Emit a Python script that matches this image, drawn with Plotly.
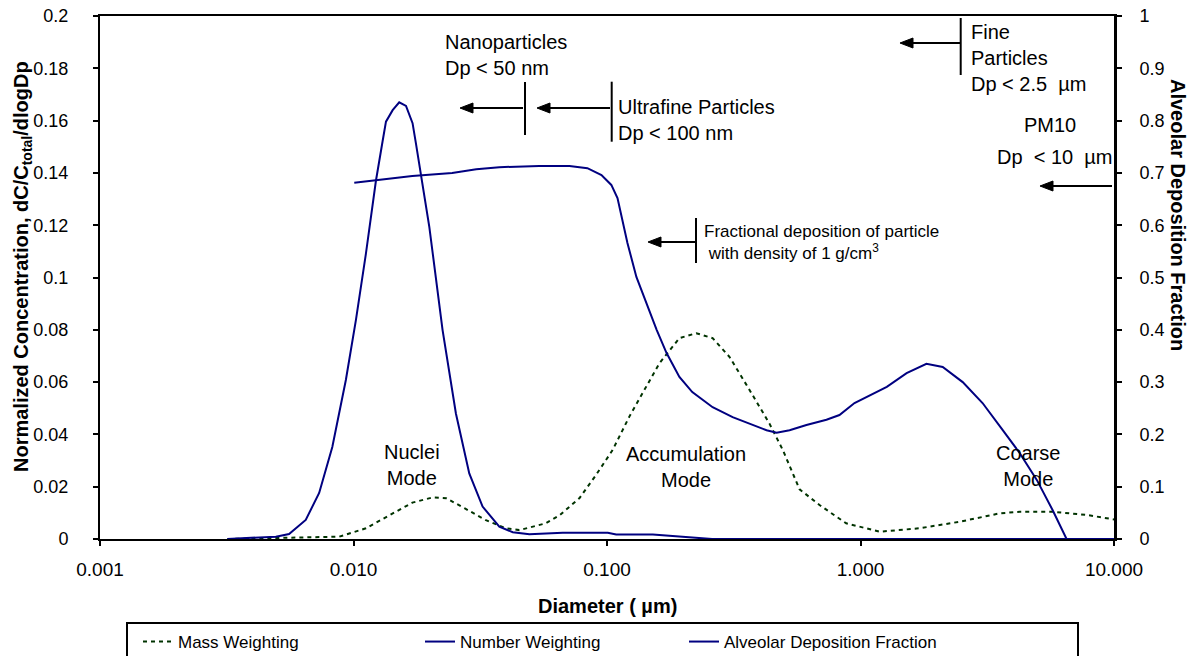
import plotly.graph_objects as go

# ---------------- data ----------------
diam_number = [0.00318, 0.00494, 0.00557, 0.00648, 0.00732, 0.00825, 0.00933, 0.01022, 0.01119,
               0.01226, 0.01302, 0.01343, 0.01427, 0.01515, 0.01611, 0.0171, 0.01763, 0.01991,
               0.02246, 0.02535, 0.02862, 0.0323, 0.0376, 0.0425, 0.0494, 0.0669, 0.1007,
               0.1087, 0.1516, 0.193, 0.26, 10.0]
number_weighting = [0.0, 0.0009, 0.0019, 0.0073, 0.0176, 0.0352, 0.0608, 0.0837, 0.109,
                    0.137, 0.152, 0.1596, 0.164, 0.167, 0.1656, 0.159, 0.1513, 0.1194,
                    0.0799, 0.048, 0.0251, 0.0124, 0.0047, 0.0026, 0.0018, 0.0024, 0.0024,
                    0.0017, 0.0017, 0.0009, 0.0, 0.0]

diam_mass = [0.00318, 0.00879, 0.01119, 0.01427, 0.01707, 0.0205, 0.0232, 0.0275, 0.0331,
             0.0398, 0.0451, 0.0574, 0.0653, 0.0778, 0.0905, 0.1052, 0.1225, 0.1448, 0.161,
             0.193, 0.225, 0.261, 0.304, 0.365, 0.437, 0.494, 0.575, 0.689, 0.878, 1.19,
             1.71, 2.46, 3.54, 4.25, 5.75, 7.79, 10.0]
mass_weighting = [0.0, 0.0009, 0.0041, 0.0098, 0.0139, 0.0159, 0.0156, 0.0117, 0.0073,
                  0.0041, 0.0034, 0.006, 0.0092, 0.0156, 0.0245, 0.034, 0.0468, 0.0593, 0.0672,
                  0.0768, 0.0787, 0.0768, 0.0697, 0.057, 0.0442, 0.034, 0.019, 0.013, 0.006, 0.0028,
                  0.0041, 0.0066, 0.0098, 0.0104, 0.0104, 0.0092, 0.0075]

diam_deposition = [0.01007, 0.0123, 0.01706, 0.0245, 0.0305, 0.0376, 0.054, 0.0711, 0.0837,
                   0.0951, 0.104, 0.110, 0.114, 0.1204, 0.1306, 0.143, 0.157, 0.1716, 0.193,
                   0.217, 0.261, 0.313, 0.375, 0.426, 0.467, 0.525, 0.612, 0.734, 0.826, 0.947,
                   1.27, 1.52, 1.82, 2.11, 2.53, 3.03, 3.64, 4.25, 4.96, 5.73, 6.50]
alveolar_fraction = [0.681, 0.686, 0.694, 0.700, 0.707, 0.711, 0.713, 0.713, 0.709,
                     0.696, 0.677, 0.652, 0.616, 0.566, 0.501, 0.451, 0.400, 0.356, 0.310,
                     0.281, 0.252, 0.233, 0.218, 0.208, 0.203, 0.208, 0.218, 0.228, 0.237, 0.260,
                     0.291, 0.317, 0.335, 0.329, 0.300, 0.260, 0.208, 0.164, 0.113, 0.055, 0.0]

x_tickvals = [0.001, 0.01, 0.1, 1, 10]
x_ticktext = ["0.001", "0.010", "0.100", "1.000", "10.000"]
y_tickvals = [0, 0.02, 0.04, 0.06, 0.08, 0.1, 0.12, 0.14, 0.16, 0.18, 0.2]
y_ticktext = ["0", "0.02", "0.04", "0.06", "0.08", "0.1", "0.12", "0.14", "0.16", "0.18", "0.2"]
y2_tickvals = [0, 0.1, 0.2, 0.3, 0.4, 0.5, 0.6, 0.7, 0.8, 0.9, 1]
y2_ticktext = ["0", "0.1", "0.2", "0.3", "0.4", "0.5", "0.6", "0.7", "0.8", "0.9", "1"]

# ---------------- layout helpers ----------------
W, H = 1191, 656
PL, PR, PT, PB = 100, 1114, 16, 539   # plot area in screen pixels
L, T = PL, PT
R = W - PR
B = H - PB
PW, PH = PR - PL, PB - PT
FONT = "Liberation Sans, Arial, sans-serif"
NAVY = "#000080"
GREEN = "#003300"


def px(x):
    return (x - PL) / PW


def py(y):
    return (PB - y) / PH


fig = go.Figure()
fig.add_trace(go.Scatter(x=diam_mass, y=mass_weighting, mode="lines", name="Mass Weighting",
                         line=dict(color=GREEN, width=2, dash="4px,4px")))
fig.add_trace(go.Scatter(x=diam_number, y=number_weighting, mode="lines", name="Number Weighting",
                         line=dict(color=NAVY, width=2)))
fig.add_trace(go.Scatter(x=diam_deposition, y=alveolar_fraction, mode="lines",
                         name="Alveolar Deposition Fraction", yaxis="y2", legend="legend2",
                         line=dict(color=NAVY, width=2)))

ann = []
shapes = []


def text(t, x, y, xanchor="left", size=20, align="left", angle=0):
    ann.append(dict(text=t, x=px(x), y=py(y), xref="paper", yref="paper", showarrow=False,
                    xanchor=xanchor, yanchor="middle", align=align, textangle=angle,
                    font=dict(family=FONT, size=size, color="black")))


def arrow(xh, y, length):
    # shaft
    shapes.append(dict(type="line", xref="paper", yref="paper", x0=px(xh + 10), x1=px(xh + length),
                       y0=py(y), y1=py(y), line=dict(color="black", width=2)))
    # head
    path = "M {:.5f},{:.5f} L {:.5f},{:.5f} L {:.5f},{:.5f} Z".format(
        px(xh), py(y), px(xh + 13), py(y - 5), px(xh + 13), py(y + 5))
    shapes.append(dict(type="path", xref="paper", yref="paper", path=path,
                       fillcolor="black", line=dict(color="black", width=1)))


NB = "\u00a0"
text("Nanoparticles<br>Dp &lt; 50 nm", 443, 55)
text("Ultrafine Particles<br>Dp &lt; 100 nm", 616, 120)
text("Fine<br>Particles<br>Dp &lt; 2.5" + NB + NB + "µm", 969, 58)
text("PM10", 1050, 125, xanchor="center")
text("Dp" + NB + NB + "&lt; 10" + NB + NB + "µm", 995, 157)
text("Fractional deposition of particle<br>" + NB + "with density of 1 g/cm<sup>3</sup>",
     702, 242, size=17)
text("Nuclei<br>Mode", 412, 465, xanchor="center", align="center")
text("Accumulation<br>Mode", 686, 467, xanchor="center", align="center")
text("Coarse<br>Mode", 1028, 466, xanchor="center", align="center")

arrow(460, 108, 63)
arrow(537, 108, 73)
arrow(900, 43, 60)
arrow(1040, 186, 72)
arrow(648, 242, 47)

# axis titles
text("<b>Normalized Concentration, dC/C<sub>total</sub>/dlogDp</b>", 22, 267,
     xanchor="center", size=20, angle=-90)
text("<b>Alveolar Deposition Fraction</b>", 1178, 215, xanchor="center", size=20, angle=90)
text("<b>Diameter ( µm)</b>", 607, 606, xanchor="center", size=20)

for (xb, y0, y1) in [(525, 82, 135), (611.7, 81.7, 141.7), (960.7, 18, 75), (696, 218, 263)]:
    shapes.append(dict(type="line", xref="paper", yref="paper", x0=px(xb), x1=px(xb),
                       y0=py(y0), y1=py(y1), line=dict(color="black", width=2)))
# legend frame
shapes.append(dict(type="rect", xref="paper", yref="paper", x0=px(127), x1=px(1078),
                   y0=py(623), y1=py(680), line=dict(color="black", width=2),
                   fillcolor="rgba(0,0,0,0)"))

fig.update_layout(annotations=ann, shapes=shapes)

legend_common = dict(orientation="h", xanchor="left", yanchor="top",
                     font=dict(family=FONT, size=17, color="black"),
                     bgcolor="rgba(0,0,0,0)", borderwidth=0)

fig.update_layout(
    width=W, height=H,
    margin=dict(l=L, r=R, t=T, b=B, autoexpand=False),
    paper_bgcolor="white", plot_bgcolor="white",
    font=dict(family=FONT, size=18, color="black"),
    showlegend=True,
    legend=dict(x=px(138), y=py(624), entrywidth=237, entrywidthmode="pixels", **legend_common),
    legend2=dict(x=px(684), y=py(624), **legend_common),
    xaxis=dict(type="log", range=[-3, 1], tickvals=x_tickvals, ticktext=x_ticktext,
               showgrid=False, zeroline=False, showline=True, linecolor="black", linewidth=2,
               mirror=True, ticks="outside", ticklen=5, tickwidth=2, tickcolor="black",
               tickfont=dict(size=19), ticklabelstandoff=7, ticklabeloverflow="allow"),
    yaxis=dict(range=[0, 0.2], tickvals=y_tickvals, ticktext=y_ticktext,
               showgrid=False, zeroline=False, showline=True, linecolor="black", linewidth=2,
               ticks="outside", ticklen=5, tickwidth=2, tickcolor="black",
               tickfont=dict(size=18), ticklabelstandoff=21, ticklabeloverflow="allow"),
    yaxis2=dict(range=[0, 1], tickvals=y2_tickvals, ticktext=y2_ticktext, overlaying="y",
                side="right", showgrid=False, zeroline=False, showline=True, linecolor="black",
                linewidth=3, ticks="outside", ticklen=5, tickwidth=2, tickcolor="black",
                tickfont=dict(size=18), ticklabelstandoff=14, ticklabeloverflow="allow"),
)

fig.write_html("out.html", config={"displayModeBar": False},
               post_script="document.body.style.margin='0px';document.body.style.overflow='hidden';")
